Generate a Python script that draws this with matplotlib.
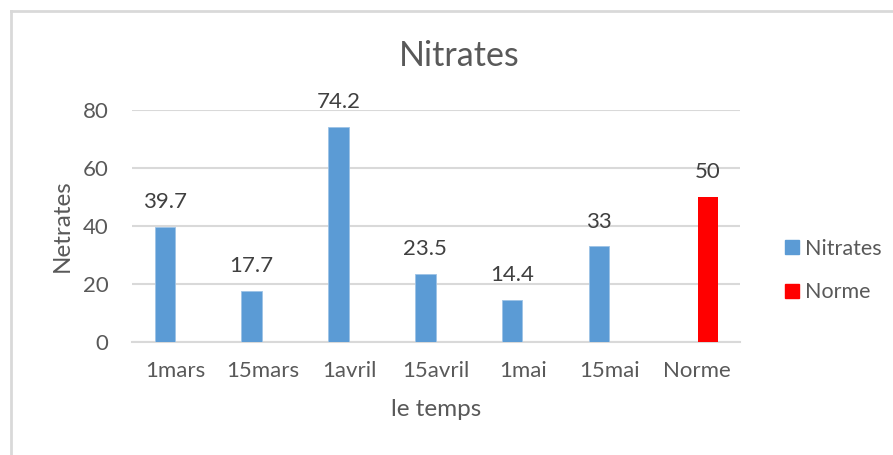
import matplotlib.pyplot as plt
from matplotlib.patches import Patch
from matplotlib.lines import Line2D

# ==== données ====
categories = ["1mars", "15mars", "1avril", "15avril", "1mai", "15mai", "Norme"]
nitrates = [39.7, 17.7, 74.2, 23.5, 14.4, 33]
norme = [50]

bleu = "#5B9BD5"
rouge = "#FF0000"
gris_txt = "#595959"
gris_grille = "#D9D9D9"

plt.rcParams['font.family'] = ['Lato', 'DejaVu Sans']

fig = plt.figure(figsize=(8.93, 4.55), dpi=100)
ax = fig.add_axes([0.148, 0.2484, 0.681, 0.5096])

largeur = 0.235
decal = 0.125

x_nit = list(range(len(nitrates)))
b1 = ax.bar([x - decal for x in x_nit], nitrates, width=largeur, color=bleu,
            edgecolor="#9DC3E6", linewidth=0.6, zorder=3)
x_norme = [len(categories) - 1]
b2 = ax.bar([x + decal for x in x_norme], norme, width=largeur, color=rouge,
            zorder=3)

# étiquettes de données
for barres, valeurs in ((b1, nitrates), (b2, norme)):
    for rect, v in zip(barres, valeurs):
        ax.annotate(f"{v:g}", xy=(rect.get_x() + rect.get_width() / 2, v),
                    xytext=(0, 13.5), textcoords="offset points",
                    ha="center", va="baseline", fontsize=16,
                    color="#404040", annotation_clip=False)

ax.set_xlim(-0.5, len(categories) - 0.5)
ax.set_ylim(0, 80)
ax.set_yticks([0, 20, 40, 60, 80])
ax.set_xticks(range(len(categories)))
ax.set_xticklabels(categories)

ax.grid(axis="y", color=gris_grille, linewidth=1.5, zorder=0)
ax.set_axisbelow(True)
for s in ["top", "right", "left"]:
    ax.spines[s].set_visible(False)
ax.spines["bottom"].set_color(gris_grille)
ax.spines["bottom"].set_linewidth(1.5)
ax.tick_params(axis="both", length=0, labelsize=16, labelcolor=gris_txt)
ax.tick_params(axis="x", pad=14)
ax.tick_params(axis="y", pad=17)

ax.set_xlabel("le temps", fontsize=17.5, color=gris_txt, va="center")
ax.xaxis.set_label_coords(0.5, -0.293)
ax.set_ylabel("Netrates", fontsize=17.5, color=gris_txt, va="center")
ax.yaxis.set_label_coords(-0.115, 0.5)
fig.text(0.514, 0.876, "Nitrates", ha="center", va="center",
         fontsize=24.5, color=gris_txt)

# légende
poignees = [Patch(color=bleu), Patch(color=rouge)]
fig.legend(poignees, ["Nitrates", "Norme"], loc="center left",
           bbox_to_anchor=(0.857, 0.4055), frameon=False, fontsize=15.5,
           labelcolor=gris_txt, handlelength=0.65, handleheight=0.65,
           handletextpad=0.28, labelspacing=1.1)

# cadre du graphique (haut et gauche)
fig.add_artist(Line2D([0.0123, 0.999], [0.976, 0.976], color=gris_grille,
                      linewidth=2, transform=fig.transFigure))
fig.add_artist(Line2D([0.0123, 0.0123], [0.0, 0.976], color=gris_grille,
                      linewidth=2, transform=fig.transFigure))

fig.savefig("out.png", dpi=100)
